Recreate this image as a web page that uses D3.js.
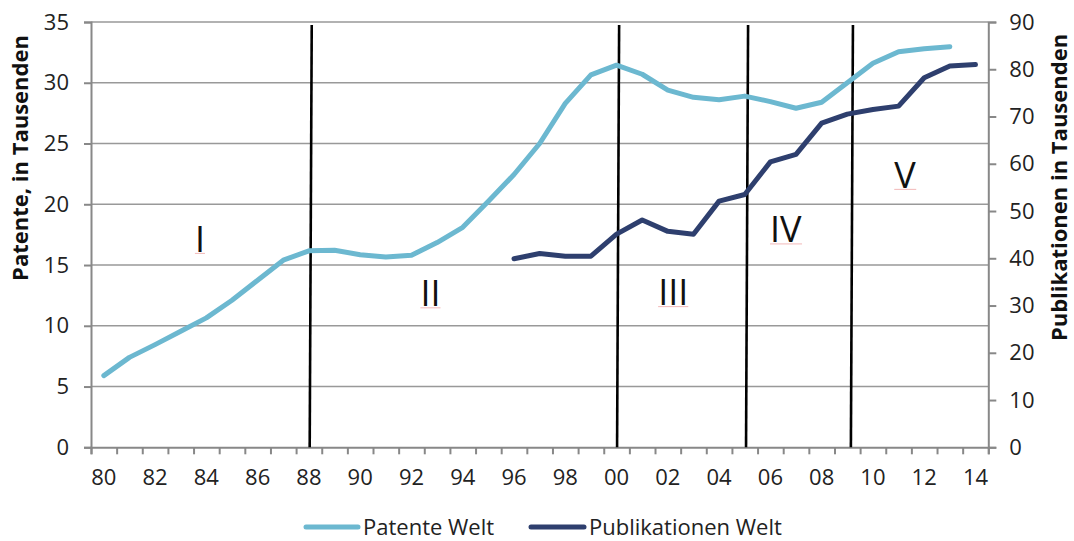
<!DOCTYPE html>
<html><head><meta charset="utf-8">
<script src="https://cdn.jsdelivr.net/npm/d3@7"></script>
<style>body{margin:0;background:#fff}svg{display:block}</style>
</head><body>
<svg id="c" width="1074" height="541"></svg>
<script>
const years = d3.range(1980, 2015);
const tickLabels = ["80","82","84","86","88","90","92","94","96","98","00","02","04","06","08","10","12","14"];
const patentYears = d3.range(1980, 2014);
const patente = [5.9,7.4,8.45,9.55,10.65,12.1,13.75,15.4,16.17,16.22,15.85,15.67,15.8,16.85,18.1,20.25,22.45,25.0,28.3,30.65,31.45,30.7,29.4,28.8,28.6,28.9,28.45,27.9,28.4,30.0,31.6,32.55,32.8,32.97];
const pubYears = d3.range(1996, 2015);
const publikationen = [39.9,41.0,40.45,40.45,45.1,48.1,45.7,45.1,52.1,53.5,60.4,62.0,68.6,70.5,71.5,72.2,78.2,80.7,81.0];
const leftTicks = [0,5,10,15,20,25,30,35];
const rightTicks = [0,10,20,30,40,50,60,70,80,90];
const phaseLines = [1988.57, 2000.56, 2005.59, 2009.68];
const phaseLabels = ["I","II","III","IV","V"];
const phaseLabelPos = [[1984.25,16.08],[1993.24,11.6],[2002.71,11.7],[2007.1,16.86],[2011.75,21.35]];

const svg = d3.select("#c");
const L = 91, R = 988.3, T = 22, B = 447.3;
const font = "'Open Sans', 'Noto Sans', sans-serif";
const xb = d3.scaleBand().domain(years).range([L, R]).padding(0);
const xc = d3.scaleLinear().domain([1980, 2015]).range([L, R]);
const yl = d3.scaleLinear().domain([0, 35]).range([B, T]);
const yr = d3.scaleLinear().domain([0, 90]).range([B, T]);
const cx = y => xb(y) + xb.bandwidth() / 2;

// gridlines
svg.append("g").selectAll("line").data(leftTicks.slice(1)).join("line")
  .attr("x1", L).attr("x2", R).attr("y1", d => yl(d)).attr("y2", d => yl(d))
  .attr("stroke", "#999").attr("stroke-width", 1.6);

// left axis
const gl = svg.append("g").attr("transform", `translate(${L},0)`)
  .call(d3.axisLeft(yl).tickValues(leftTicks).tickSize(7).tickPadding(15));
// right axis
const gr = svg.append("g").attr("transform", `translate(${R},0)`)
  .call(d3.axisRight(yr).tickValues(rightTicks).tickSize(8).tickPadding(13));
// x axis
const gx = svg.append("g").attr("transform", `translate(0,${B})`)
  .call(d3.axisBottom(xc).tickValues(d3.range(1980, 2016)).tickSize(7).tickFormat(""));
[gl, gr, gx].forEach(g => {
  g.select(".domain").attr("stroke", "#888").attr("stroke-width", 2);
  g.selectAll(".tick line").attr("stroke", "#888").attr("stroke-width", 2);
  g.selectAll("text").attr("font-family", font).attr("font-size", 22).attr("fill", "#222");
});
// x labels
svg.append("g").selectAll("text").data(tickLabels).join("text")
  .attr("x", (d, i) => cx(1980 + 2 * i)).attr("y", 485)
  .attr("text-anchor", "middle").attr("font-family", font).attr("font-size", 22).attr("fill", "#222")
  .text(d => d);

// axis titles
svg.append("text").attr("transform", `translate(28,158) rotate(-90)`)
  .attr("text-anchor", "middle").attr("font-family", font).attr("font-weight", "bold")
  .attr("font-size", 22).attr("fill", "#111").text("Patente, in Tausenden");
svg.append("text").attr("transform", `translate(1067,187.5) rotate(-90)`)
  .attr("text-anchor", "middle").attr("font-family", font).attr("font-weight", "bold")
  .attr("font-size", 22).attr("fill", "#111").text("Publikationen in Tausenden");

// phase lines
svg.append("g").selectAll("line").data(phaseLines).join("line")
  .attr("x1", d => xc(d + 0.04)).attr("x2", d => xc(d - 0.04))
  .attr("y1", 25).attr("y2", B)
  .attr("stroke", "#000").attr("stroke-width", 2.6);

// series lines
svg.append("path").datum(patente)
  .attr("d", d3.line().x((d, i) => cx(patentYears[i])).y(d => yl(d)))
  .attr("fill", "none").attr("stroke", "#6CB8D0").attr("stroke-width", 5)
  .attr("stroke-linecap", "round").attr("stroke-linejoin", "round");
svg.append("path").datum(publikationen)
  .attr("d", d3.line().x((d, i) => cx(pubYears[i])).y(d => yr(d)))
  .attr("fill", "none").attr("stroke", "#2E3F6E").attr("stroke-width", 5)
  .attr("stroke-linecap", "round").attr("stroke-linejoin", "round");

// phase labels
const pl = svg.append("g").selectAll("g").data(phaseLabels).join("g");
pl.append("text")
  .attr("x", (d, i) => xc(phaseLabelPos[i][0])).attr("y", (d, i) => yl(phaseLabelPos[i][1]))
  .attr("text-anchor", "middle").attr("font-family", font).attr("font-size", 36).attr("fill", "#111")
  .text(d => d)
  .each(function() {
    const bb = this.getBBox();
    d3.select(this.parentNode).append("line")
      .attr("x1", bb.x).attr("x2", bb.x + bb.width)
      .attr("y1", +this.getAttribute("y") + 1.5).attr("y2", +this.getAttribute("y") + 1.5)
      .attr("stroke", "#f2b8b8").attr("stroke-width", 1);
  });

// legend
const lg = svg.append("g").attr("font-family", font).attr("font-size", 22).attr("fill", "#222");
const legend = [["Patente Welt", "#6CB8D0", 306, 358, 363], ["Publikationen Welt", "#2E3F6E", 531, 584, 589]];
legend.forEach(([t, c, x1, x2, tx]) => {
  lg.append("line").attr("x1", x1).attr("x2", x2).attr("y1", 527).attr("y2", 527)
    .attr("stroke", c).attr("stroke-width", 5).attr("stroke-linecap", "round");
  lg.append("text").attr("x", tx).attr("y", 535).text(t);
});
</script>
</body></html>
